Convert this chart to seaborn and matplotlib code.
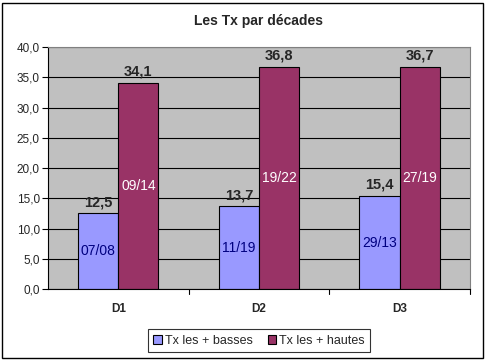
import matplotlib.pyplot as plt
import seaborn as sns
import pandas as pd

decades = ['D1', 'D2', 'D3']
tx_basses = [12.5, 13.7, 15.4]
tx_hautes = [34.1, 36.8, 36.7]
dates_basses = ['07/08', '11/19', '29/13']
dates_hautes = ['09/14', '19/22', '27/19']
series = ['Tx les + basses', 'Tx les + hautes']

df = pd.DataFrame({
    'decade': decades * 2,
    'serie': [series[0]] * 3 + [series[1]] * 3,
    'valeur': tx_basses + tx_hautes,
})

sns.set_style('white')
plt.rcParams['font.family'] = ['Liberation Sans', 'DejaVu Sans']

fig = plt.figure(figsize=(4.86, 3.6), dpi=100)
ax = fig.add_axes([0.0988, 0.197, 0.868, 0.672])
sns.barplot(data=df, x='decade', y='valeur', hue='serie', ax=ax,
            palette=['#9999FF', '#993366'], width=0.57,
            edgecolor='black', linewidth=0.8, saturation=1)

ax.set_facecolor('#C0C0C0')
ax.set_ylim(0, 40)
ax.set_yticks(range(0, 41, 5))
ax.set_yticklabels([f'{v:.1f}'.replace('.', ',') for v in range(0, 41, 5)], fontsize=8.5)
ax.set_xlim(-0.5, 2.5)
ax.set_xticks([0, 1, 2])
ax.set_xticklabels(decades, fontsize=8.5, fontweight='bold')
ax.set_xlabel('')
ax.set_ylabel('')
ax.yaxis.grid(True, color='black', linewidth=0.8)
ax.set_axisbelow(True)
for s in ax.spines.values():
    s.set_color('#808080')
ax.spines['left'].set_color('black')
ax.spines['bottom'].set_color('black')
ax.tick_params(axis='y', length=4, width=0.8, color='black', pad=2, left=True)
ax.tick_params(axis='x', length=0, pad=10)
for xb in [0.5, 1.5, 2.5]:
    ax.plot([xb, xb], [0, -0.8], color='black', lw=0.8, clip_on=False)

for i, (cont, dates) in enumerate(zip(ax.containers, [dates_basses, dates_hautes])):
    labels = [f'{v:.1f}'.replace('.', ',') for v in cont.datavalues]
    ax.bar_label(cont, labels=labels, padding=3, fontsize=10.5, fontweight='bold')
    color = '#000080' if i == 0 else 'white'
    for bar, d in zip(cont, dates):
        ax.text(bar.get_x() + bar.get_width() / 2, bar.get_height() / 2, d,
                ha='center', va='center', fontsize=10, color=color)

ax.set_title('Les Tx par décades', fontsize=10, fontweight='bold', pad=16)

leg = ax.legend(loc='upper center', bbox_to_anchor=(0.5, -0.14), ncol=2,
                fontsize=9, frameon=True, fancybox=False, handlelength=0.7,
                handleheight=0.7, handletextpad=0.2, columnspacing=1.2,
                borderpad=0.45)
leg.get_frame().set_edgecolor('black')
leg.get_frame().set_linewidth(0.8)
for h in leg.legend_handles:
    h.set_edgecolor('black')
    h.set_linewidth(0.8)

fig.patches.append(plt.Rectangle((0.004, 0.006), 0.99, 0.986, transform=fig.transFigure,
                                 fill=False, edgecolor='black', linewidth=1))

fig.savefig('out.png', dpi=100)
